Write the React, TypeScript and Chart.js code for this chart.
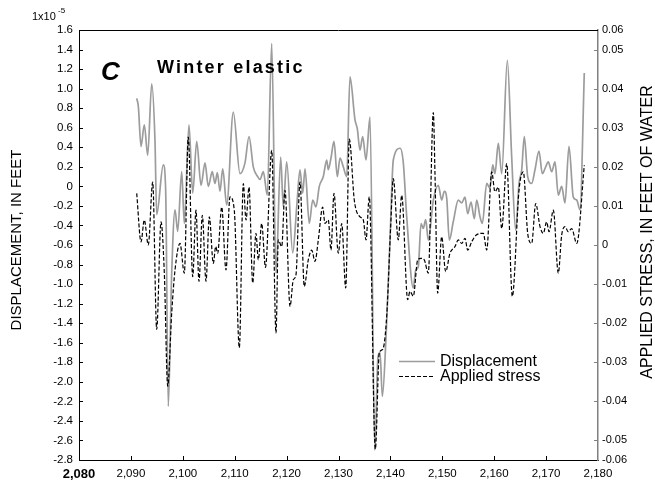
import { useEffect, useRef } from "react";
import { Chart, registerables } from "chart.js";

Chart.register(...registerables);

const FONT = '"Liberation Sans", Arial, Helvetica, sans-serif';

// Displacement, in units of 1x10^-5 feet
const displacementYears = [
  2091.12, 2091.43, 2091.95, 2092.58, 2093.24, 2094.01, 2094.64, 2094.97, 2096.24, 2096.7,
  2097.2, 2097.86, 2098.5, 2099.02, 2099.79, 2100.29, 2101.19, 2101.91, 2102.68, 2103.51,
  2104.28, 2104.91, 2105.68, 2106.2, 2106.65, 2107.17, 2107.69, 2108.46, 2109.73, 2111.02,
  2111.98, 2112.76, 2113.58, 2114.43, 2114.88, 2115.51, 2116.28, 2117.13, 2117.96, 2118.86,
  2119.36, 2120.02, 2121.18, 2121.95, 2122.58, 2123.1, 2123.55, 2124.37, 2125.03, 2125.66,
  2126.3, 2127.07, 2127.73, 2128.03, 2128.55, 2129.13, 2129.77, 2130.29, 2130.92, 2131.58,
  2132.21, 2133.18, 2133.62, 2134.14, 2134.66, 2135.3, 2136.07, 2137.0, 2137.6, 2138.0,
  2138.45, 2139.15, 2139.92, 2140.56, 2141.87, 2142.49, 2143.14, 2144.41, 2144.87, 2145.38,
  2145.9, 2146.34, 2146.8, 2147.3, 2148.27, 2149.23, 2149.88, 2150.39, 2150.85, 2151.35,
  2152.12, 2153.08, 2153.74, 2154.37, 2154.89, 2155.53, 2156.17, 2156.63, 2157.26, 2157.71,
  2158.56, 2159.19, 2159.71, 2160.15, 2160.79, 2161.45, 2162.53, 2163.37, 2164.14, 2164.78,
  2165.3, 2165.8, 2166.45, 2167.22, 2167.86, 2168.63, 2169.27, 2169.92, 2170.42, 2171.08,
  2171.71, 2172.35, 2173.0, 2173.64, 2174.41, 2175.24, 2175.9, 2176.53, 2177.36,
];
const displacementValues = [
  0.9, 0.82, 0.41, 0.63, 0.32, 1.05, 0.47, -0.29, 0.22, -0.04,
  -2.25, -0.89, -0.24, -0.46, 0.15, -0.38, 0.63, -0.07, 0.46, 0.01,
  0.24, 0.0, 0.15, 0.03, 0.14, -0.05, 0.18, -0.19, 0.76, 0.13,
  0.24, 0.51, 0.2, 0.1, 0.07, 0.15, -0.09, 1.46, -0.89, 0.3,
  -0.21, 0.25, -0.68, -0.21, 0.17, -0.07, 0.18, -0.38, -0.14, -0.21,
  0.0, 0.1, 0.27, 0.17, 0.29, 0.46, 0.1, 0.29, 0.2, 0.1,
  1.12, 0.68, 0.59, 0.37, 0.51, 0.27, 0.71, -2.7, -1.75, -1.7,
  -2.15, -1.55, -0.55, 0.27, 0.39, 0.24, -0.31, -1.04, -0.86, -0.82,
  -0.38, -0.43, -0.34, -0.55, -0.14, 0.01, -0.14, -0.05, -0.12, -0.55,
  -0.36, -0.14, -0.17, -0.11, -0.28, -0.16, -0.33, -0.14, -0.31, -0.38,
  0.03, -0.02, 0.22, 0.13, 0.44, 0.13, 1.29, 0.3, -0.45, 0.03,
  0.17, 0.51, 0.1, 0.03, 0.17, 0.36, 0.13, 0.2, 0.25, 0.15,
  0.25, -0.09, 0.0, -0.17, 0.41, -0.11, -0.14, -0.24, 1.16,
];

// Applied stress, in feet of water
const stressYears = [
  2091.12, 2091.95, 2092.58, 2093.35, 2094.2, 2094.97, 2095.8, 2096.44, 2097.09, 2097.86,
  2098.5, 2099.46, 2100.29, 2101.06, 2101.91, 2102.54, 2103.12, 2103.76, 2104.47, 2105.11,
  2105.88, 2106.34, 2106.72, 2107.5, 2108.32, 2109.09, 2109.92, 2110.89, 2111.66, 2112.18,
  2112.76, 2113.47, 2114.1, 2114.55, 2115.2, 2115.93, 2117.13, 2117.96, 2118.4, 2119.06,
  2119.69, 2120.66, 2121.29, 2121.81, 2122.58, 2123.41, 2124.18, 2124.84, 2125.47, 2126.11,
  2126.95, 2127.4, 2128.03, 2128.55, 2129.13, 2129.96, 2130.62, 2131.39, 2132.08, 2133.04,
  2134.14, 2134.78, 2135.3, 2135.93, 2137.1, 2137.86, 2138.52, 2139.29, 2140.05, 2140.56,
  2141.52, 2142.18, 2143.33, 2143.77, 2144.41, 2145.26, 2145.9, 2146.53, 2147.3, 2148.27,
  2148.59, 2149.11, 2149.88, 2150.65, 2151.48, 2152.45, 2153.08, 2153.74, 2154.37, 2154.89,
  2155.66, 2156.49, 2157.9, 2158.56, 2159.52, 2160.15, 2160.79, 2161.45, 2162.41, 2163.49,
  2164.78, 2165.61, 2166.45, 2167.22, 2168.0, 2168.83, 2169.46, 2170.11, 2170.56, 2171.39,
  2172.35, 2173.0, 2173.64, 2174.28, 2174.93, 2175.9, 2177.36,
];
const stressValues = [
  0.0132, 0.0008, 0.0064, 0.0, 0.0161, -0.0216, 0.0059, -0.0072, -0.0361, -0.0174,
  -0.0064, 0.0004, -0.0072, 0.0276, -0.0081, 0.0089, -0.0093, 0.0076, -0.0093, 0.0072,
  -0.0047, -0.0004, -0.0021, 0.0097, -0.0064, 0.0123, 0.0089, -0.0263, 0.0157, 0.0064,
  0.0148, -0.0097, 0.003, -0.0038, 0.0055, -0.0057, 0.0242, -0.0225, 0.0013, -0.0004,
  0.014, -0.0157, -0.0089, -0.0076, 0.0161, -0.0106, -0.0038, -0.0013, -0.0042, 0.0013,
  0.0097, 0.0055, 0.0064, -0.0013, 0.0132, -0.0021, 0.0055, -0.011, 0.0271, 0.0115,
  0.0072, 0.0064, 0.0013, 0.0123, -0.0522, -0.0276, -0.0267, -0.0182, 0.0047, 0.017,
  0.0013, 0.0127, -0.014, -0.0119, -0.0131, -0.0038, -0.0034, -0.0038, -0.0072, 0.0339,
  0.0182, -0.0123, 0.0021, -0.0068, -0.0021, -0.0004, 0.0013, 0.0004, 0.0017, -0.0013,
  0.0008, 0.0025, 0.003, -0.0013, 0.0187, 0.0136, 0.0148, 0.0042, 0.0208, -0.0131,
  0.014, 0.0187, 0.003, 0.0004, 0.0106, 0.0047, 0.003, 0.0059, 0.0034, 0.0089,
  -0.0072, 0.0025, 0.0047, 0.0034, 0.0042, 0.0004, 0.0204,
];

const yearTicks = [2080, 2090, 2100, 2110, 2120, 2130, 2140, 2150, 2160, 2170, 2180];
const displacementTicks = [
  -2.8, -2.6, -2.4, -2.2, -2.0, -1.8, -1.6, -1.4, -1.2, -1.0, -0.8, -0.6, -0.4, -0.2,
  0, 0.2, 0.4, 0.6, 0.8, 1.0, 1.2, 1.4, 1.6,
];
const stressTicks = [
  -0.055, -0.05, -0.04, -0.03, -0.02, -0.01, 0, 0.01, 0.02, 0.03, 0.04, 0.05, 0.055,
];

const GRAY = "#9c9c9c";

const decorations = {
  id: "decorations",
  afterDraw(chart: any) {
    const { ctx, chartArea } = chart;
    const { left, right, top, bottom } = chartArea;
    const xs = chart.scales.x;
    const ys = chart.scales.y;
    const ys1 = chart.scales.y1;
    ctx.save();

    // frame top edge
    ctx.strokeStyle = "#000";
    ctx.lineWidth = 1;
    ctx.beginPath();
    ctx.moveTo(left, Math.round(top) + 0.5);
    ctx.lineTo(right, Math.round(top) + 0.5);
    ctx.stroke();

    // inward tick marks
    ctx.beginPath();
    for (const v of displacementTicks) {
      if (v === displacementTicks[0] || v === displacementTicks[displacementTicks.length - 1]) continue;
      const y = Math.round(ys.getPixelForValue(v)) + 0.5;
      ctx.moveTo(left, y);
      ctx.lineTo(left + 4, y);
    }
    for (const v of yearTicks) {
      if (v === yearTicks[0] || v === yearTicks[yearTicks.length - 1]) continue;
      const x = Math.round(xs.getPixelForValue(v)) + 0.5;
      ctx.moveTo(x, bottom);
      ctx.lineTo(x, bottom - 4);
    }
    ctx.stroke();
    ctx.strokeStyle = "#808080";
    ctx.beginPath();
    for (const v of stressTicks) {
      if (Math.abs(v) > 0.052) continue;
      const y = Math.round(ys1.getPixelForValue(v)) + 0.5;
      ctx.moveTo(right, y);
      ctx.lineTo(right - 4, y);
    }
    ctx.stroke();

    ctx.fillStyle = "#000";
    ctx.textBaseline = "alphabetic";

    // axis multiplier
    ctx.textAlign = "left";
    ctx.font = `11px ${FONT}`;
    ctx.fillText("1x10", 32, 20);
    ctx.font = `8px ${FONT}`;
    ctx.fillText("-5", 58, 13);

    // panel letter and caption
    ctx.font = `italic bold 26px ${FONT}`;
    ctx.fillText("C", 101, 80);
    ctx.font = `bold 18px ${FONT}`;
    (ctx as any).letterSpacing = "2.2px";
    ctx.fillText("Winter elastic", 157, 73);
    (ctx as any).letterSpacing = "0px";

    // axis titles
    ctx.textAlign = "center";
    ctx.textBaseline = "middle";
    ctx.font = `15px ${FONT}`;
    ctx.save();
    ctx.translate(17, 240);
    ctx.rotate(-Math.PI / 2);
    ctx.fillText("DISPLACEMENT, IN FEET", 0, 0);
    ctx.restore();
    ctx.font = `16px ${FONT}`;
    ctx.save();
    ctx.translate(648, 232);
    ctx.rotate(-Math.PI / 2);
    ctx.fillText("APPLIED STRESS, IN FEET OF WATER", 0, 0);
    ctx.restore();

    // legend
    const items = chart.data.datasets;
    const lx = 399;
    let ly = 361;
    ctx.textAlign = "left";
    ctx.font = `16px ${FONT}`;
    for (const ds of items) {
      ctx.strokeStyle = ds.borderColor;
      ctx.lineWidth = ds.borderWidth;
      ctx.setLineDash(ds.borderDash || []);
      ctx.beginPath();
      ctx.moveTo(lx, ly + 0.5);
      ctx.lineTo(lx + 36, ly + 0.5);
      ctx.stroke();
      ctx.setLineDash([]);
      ctx.fillStyle = "#000";
      ctx.fillText(ds.label, lx + 41, ly + 1);
      ly += 15;
    }
    ctx.restore();
  },
};

export default function App() {
  const canvasRef = useRef<HTMLCanvasElement>(null);

  useEffect(() => {
    const canvas = canvasRef.current;
    if (!canvas) return;
    const tickFont = { family: FONT, size: 11.5 };
    const chart = new Chart(canvas, {
      type: "line",
      data: {
        datasets: [
          {
            label: "Displacement",
            data: displacementYears.map((x, i) => ({ x, y: displacementValues[i] })),
            yAxisID: "y",
            borderColor: GRAY,
            borderWidth: 1.7,
            pointRadius: 0,
            cubicInterpolationMode: "monotone",
            order: 2,
          },
          {
            label: "Applied stress",
            data: stressYears.map((x, i) => ({ x, y: stressValues[i] })),
            yAxisID: "y1",
            borderColor: "#000",
            borderWidth: 1.2,
            borderDash: [4, 2],
            pointRadius: 0,
            cubicInterpolationMode: "monotone",
            order: 1,
          },
        ],
      },
      options: {
        responsive: false,
        devicePixelRatio: 1,
        animation: false,
        events: [],
        layout: { padding: { top: 30, left: 0, right: 0, bottom: 0 } },
        plugins: {
          legend: { display: false },
          tooltip: { enabled: false },
          title: { display: false },
        },
        scales: {
          x: {
            type: "linear",
            position: "bottom",
            min: 2080,
            max: 2180,
            grid: { display: false, drawTicks: false },
            border: { display: true, color: "#000", width: 1 },
            ticks: {
              autoSkip: false,
              maxRotation: 0,
              padding: 7,
              color: "#000",
              font: (c: any) =>
                c.tick && c.tick.value === 2080
                  ? { family: FONT, size: 13, weight: "bold" }
                  : tickFont,
              callback: (v: any) => Number(v).toLocaleString("en-US"),
            },
            afterBuildTicks: (s: any) => {
              s.ticks = yearTicks.map((value) => ({ value }));
            },
            afterFit: (s: any) => {
              s.height = 25;
            },
          },
          y: {
            position: "left",
            min: -2.8,
            max: 1.6,
            grid: { display: false, drawTicks: false },
            border: { display: true, color: "#000", width: 1 },
            ticks: {
              autoSkip: false,
              padding: 6,
              color: "#000",
              font: tickFont,
              callback: (v: any) => (Math.abs(v) < 1e-9 ? "0" : Number(v).toFixed(1)),
            },
            afterBuildTicks: (s: any) => {
              s.ticks = displacementTicks.map((value) => ({ value }));
            },
            afterFit: (s: any) => {
              s.width = 79;
            },
          },
          y1: {
            position: "right",
            min: -0.055,
            max: 0.055,
            grid: { display: false, drawTicks: false },
            border: { display: true, color: "#808080", width: 1.5 },
            ticks: {
              autoSkip: false,
              padding: 4,
              color: "#000",
              font: { family: FONT, size: 11 },
              callback: (v: any) => {
                const n = Number(v);
                if (Math.abs(n) < 1e-9) return "0";
                if (Math.abs(n) > 0.052) return n > 0 ? "0.06" : "-0.06";
                return n.toFixed(2);
              },
            },
            afterBuildTicks: (s: any) => {
              s.ticks = stressTicks.map((value) => ({ value }));
            },
            afterFit: (s: any) => {
              s.width = 57;
            },
          },
        },
      } as any,
      plugins: [decorations],
    });
    return () => chart.destroy();
  }, []);

  return (
    <div style={{ position: "fixed", left: 0, top: 0, width: 655, height: 485, background: "#fff" }}>
      <canvas ref={canvasRef} width={655} height={485} style={{ display: "block" }} />
    </div>
  );
}
